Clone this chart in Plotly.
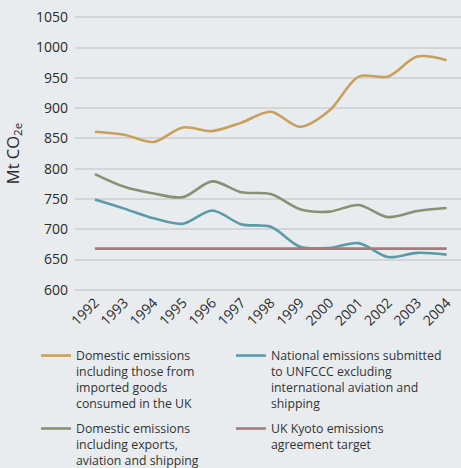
import plotly.graph_objects as go

years = list(range(1992, 2005))
year_labels = [str(y) for y in years]

imported = [861, 856, 844, 868, 862, 876, 894, 869, 896, 952, 952, 985, 979]
national = [749, 734, 718, 709, 731, 708, 704, 671, 669, 677, 654, 661, 658]
exports = [791, 770, 759, 753, 779, 761, 758, 733, 729, 740, 720, 730, 735]
kyoto = [668] * len(years)

names = [
    "Domestic emissions<br>including those from<br>imported goods<br>consumed in the UK",
    "National emissions submitted<br>to UNFCCC excluding<br>international aviation and<br>shipping",
    "Domestic emissions<br>including exports,<br>aviation and shipping",
    "UK Kyoto emissions<br>agreement target",
]
colors = ["#c9a05b", "#5b9aa9", "#8a9171", "#a97b78"]
series = [imported, national, exports, kyoto]
legend_ids = ["legend", "legend2", "legend", "legend2"]

fig = go.Figure()
for i, (name, col, vals, lg) in enumerate(zip(names, colors, series, legend_ids)):
    fig.add_trace(go.Scatter(
        x=years, y=vals, mode="lines", name=name, legend=lg,
        legendgroup=f"g{i}",
        line=dict(color=col, width=2.6, shape="spline", smoothing=0.9),
    ))

font = "'Open Sans', Lato, sans-serif"
leg_common = dict(
    yanchor="top", valign="top", xanchor="left",
    font=dict(size=12.3, color="#333333"), bgcolor="rgba(0,0,0,0)",
    traceorder="grouped", tracegroupgap=6,
)
fig.update_layout(
    width=461, height=468,
    margin=dict(l=75, r=0, t=16, b=177, autoexpand=False),
    paper_bgcolor="#e9ecef", plot_bgcolor="#e9ecef",
    font=dict(family=font, color="#2b2b2b", size=14),
    showlegend=True,
    legend=dict(x=-0.101, y=-0.182, **leg_common),
    legend2=dict(x=0.404, y=-0.182, **leg_common),
    xaxis=dict(
        range=[1991.32, 2004.49], tickvals=years, ticktext=year_labels,
        tickangle=-45, showgrid=False, zeroline=False, showline=False,
        tickfont=dict(size=14),
    ),
    yaxis=dict(
        range=[598, 1052], tickvals=list(range(600, 1051, 50)),
        gridcolor="#d3d6d9", gridwidth=1.5, zeroline=False, showline=False,
        tickfont=dict(size=14), ticklabelstandoff=6,
        title=dict(text="Mt CO<sub>2e</sub>", font=dict(size=16.5), standoff=12),
    ),
)
fig.write_html("out.html", config={"displayModeBar": False},
               post_script="document.body.style.margin='0';")
